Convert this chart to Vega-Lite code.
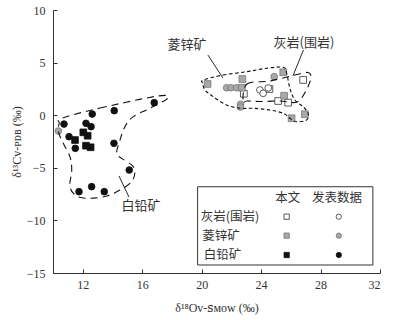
{
  "$schema": "https://vega.github.io/schema/vega-lite/v6.json",
  "width": 327,
  "height": 263,
  "autosize": {"type": "none"},
  "padding": {"left": 53, "top": 10, "right": 30, "bottom": 47},
  "config": {
    "view": {"stroke": null},
    "font": "Liberation Serif, Noto Sans CJK SC",
    "axis": {
      "domainColor": "#333",
      "tickColor": "#333",
      "labelColor": "#333",
      "titleColor": "#333",
      "labelFont": "Liberation Serif",
      "labelFontSize": 12,
      "titleFont": "Liberation Serif, DejaVu Serif",
      "titleFontSize": 12,
      "titleFontWeight": "normal",
      "grid": false,
      "tickSize": -4
    }
  },
  "datasets": {
    "env": [
      {"g": "a", "i": 1, "x": 10.59, "y": -0.29},
      {"g": "a", "i": 2, "x": 13.16, "y": 0.68},
      {"g": "a", "i": 3, "x": 17.08, "y": 1.83},
      {"g": "a", "i": 4, "x": 17.71, "y": 1.61},
      {"g": "a", "i": 5, "x": 16.52, "y": 0.66},
      {"g": "a", "i": 6, "x": 15.4, "y": -0.14},
      {"g": "a", "i": 7, "x": 14.84, "y": -1.09},
      {"g": "a", "i": 8, "x": 14.51, "y": -2.36},
      {"g": "a", "i": 9, "x": 14.28, "y": -3.62},
      {"g": "a", "i": 10, "x": 14.62, "y": -4.1},
      {"g": "a", "i": 11, "x": 15.29, "y": -4.73},
      {"g": "a", "i": 12, "x": 15.51, "y": -5.37},
      {"g": "a", "i": 13, "x": 15.29, "y": -6.32},
      {"g": "a", "i": 14, "x": 14.51, "y": -7.11},
      {"g": "a", "i": 15, "x": 13.61, "y": -7.68},
      {"g": "a", "i": 16, "x": 12.49, "y": -7.9},
      {"g": "a", "i": 17, "x": 11.59, "y": -7.68},
      {"g": "a", "i": 18, "x": 11.14, "y": -6.8},
      {"g": "a", "i": 19, "x": 11.26, "y": -5.21},
      {"g": "a", "i": 20, "x": 11.14, "y": -3.95},
      {"g": "a", "i": 21, "x": 10.69, "y": -2.67},
      {"g": "a", "i": 22, "x": 10.36, "y": -1.57},
      {"g": "a", "i": 23, "x": 10.42, "y": -0.77},
      {"g": "b", "i": 1, "x": 20.11, "y": 3.35},
      {"g": "b", "i": 2, "x": 21.45, "y": 3.82},
      {"g": "b", "i": 3, "x": 23.03, "y": 4.13},
      {"g": "b", "i": 4, "x": 24.37, "y": 4.46},
      {"g": "b", "i": 5, "x": 25.49, "y": 4.55},
      {"g": "b", "i": 6, "x": 25.72, "y": 3.98},
      {"g": "b", "i": 7, "x": 25.94, "y": 2.56},
      {"g": "b", "i": 8, "x": 26.27, "y": 1.44},
      {"g": "b", "i": 9, "x": 26.83, "y": 0.81},
      {"g": "b", "i": 10, "x": 27.17, "y": 0.18},
      {"g": "b", "i": 11, "x": 27.06, "y": -0.46},
      {"g": "b", "i": 12, "x": 26.39, "y": -0.62},
      {"g": "b", "i": 13, "x": 25.94, "y": -0.29},
      {"g": "b", "i": 14, "x": 25.49, "y": 0.18},
      {"g": "b", "i": 15, "x": 24.59, "y": 0.49},
      {"g": "b", "i": 16, "x": 23.47, "y": 0.66},
      {"g": "b", "i": 17, "x": 22.58, "y": 0.66},
      {"g": "b", "i": 18, "x": 21.68, "y": 0.97},
      {"g": "b", "i": 19, "x": 20.78, "y": 1.76},
      {"g": "b", "i": 20, "x": 20.22, "y": 2.4},
      {"g": "b", "i": 21, "x": 20.07, "y": 3.03},
      {"g": "c", "i": 1, "x": 22.78, "y": 1.25},
      {"g": "c", "i": 2, "x": 23.05, "y": 2.97},
      {"g": "c", "i": 3, "x": 24.59, "y": 3.25},
      {"g": "c", "i": 4, "x": 26.27, "y": 3.82},
      {"g": "c", "i": 5, "x": 27.15, "y": 4.06},
      {"g": "c", "i": 6, "x": 27.35, "y": 3.54},
      {"g": "c", "i": 7, "x": 27.01, "y": 2.3},
      {"g": "c", "i": 8, "x": 26.41, "y": 1.25},
      {"g": "c", "i": 9, "x": 25.27, "y": 1.35},
      {"g": "c", "i": 10, "x": 24.06, "y": 1.3},
      {"g": "c", "i": 11, "x": 23.05, "y": 1.35}
    ],
    "pts": [
      {"type": "白铅矿|发表数据", "x": 16.81, "y": 1.19},
      {"type": "白铅矿|发表数据", "x": 14.12, "y": 0.43},
      {"type": "白铅矿|发表数据", "x": 12.64, "y": 0.11},
      {"type": "白铅矿|发表数据", "x": 10.74, "y": -0.84},
      {"type": "白铅矿|发表数据", "x": 12.22, "y": -0.77},
      {"type": "白铅矿|发表数据", "x": 12.56, "y": -1.09},
      {"type": "白铅矿|发表数据", "x": 11.08, "y": -2.04},
      {"type": "白铅矿|发表数据", "x": 11.5, "y": -3.15},
      {"type": "白铅矿|发表数据", "x": 14.1, "y": -2.67},
      {"type": "白铅矿|发表数据", "x": 15.13, "y": -5.21},
      {"type": "白铅矿|发表数据", "x": 11.75, "y": -7.27},
      {"type": "白铅矿|发表数据", "x": 12.6, "y": -6.79},
      {"type": "白铅矿|发表数据", "x": 13.45, "y": -7.27},
      {"type": "白铅矿|本文", "x": 11.48, "y": -2.36},
      {"type": "白铅矿|本文", "x": 12.04, "y": -1.63},
      {"type": "白铅矿|本文", "x": 12.33, "y": -1.95},
      {"type": "白铅矿|本文", "x": 12.22, "y": -2.9},
      {"type": "白铅矿|本文", "x": 12.53, "y": -3.05},
      {"type": "灰岩(围岩)|本文", "x": 22.84, "y": 2.04},
      {"type": "灰岩(围岩)|本文", "x": 24.56, "y": 2.49},
      {"type": "灰岩(围岩)|本文", "x": 26.83, "y": 3.35},
      {"type": "灰岩(围岩)|本文", "x": 25.15, "y": 1.35},
      {"type": "灰岩(围岩)|本文", "x": 25.82, "y": 1.19},
      {"type": "灰岩(围岩)|发表数据", "x": 23.92, "y": 2.4},
      {"type": "灰岩(围岩)|发表数据", "x": 24.14, "y": 2.08},
      {"type": "灰岩(围岩)|发表数据", "x": 24.48, "y": 2.59},
      {"type": "菱锌矿|发表数据", "x": 10.36, "y": -1.5},
      {"type": "菱锌矿|发表数据", "x": 21.68, "y": 2.61},
      {"type": "菱锌矿|发表数据", "x": 21.97, "y": 2.61},
      {"type": "菱锌矿|发表数据", "x": 22.35, "y": 2.61},
      {"type": "菱锌矿|发表数据", "x": 24.88, "y": 3.66},
      {"type": "菱锌矿|发表数据", "x": 22.62, "y": 1.04},
      {"type": "菱锌矿|发表数据", "x": 22.61, "y": 0.78},
      {"type": "菱锌矿|本文", "x": 20.4, "y": 2.97},
      {"type": "菱锌矿|本文", "x": 22.74, "y": 3.44},
      {"type": "菱锌矿|本文", "x": 25.49, "y": 4.08},
      {"type": "菱锌矿|本文", "x": 22.71, "y": 2.61},
      {"type": "菱锌矿|本文", "x": 25.55, "y": 1.85},
      {"type": "菱锌矿|本文", "x": 26.05, "y": -0.29},
      {"type": "菱锌矿|本文", "x": 26.95, "y": 0.09}
    ],
    "key": [
      {"type": "灰岩(围岩)|本文", "x": 25.72, "y": -9.65},
      {"type": "灰岩(围岩)|发表数据", "x": 29.23, "y": -9.65},
      {"type": "菱锌矿|本文", "x": 25.72, "y": -11.45},
      {"type": "菱锌矿|发表数据", "x": 29.23, "y": -11.45},
      {"type": "白铅矿|本文", "x": 25.72, "y": -13.29},
      {"type": "白铅矿|发表数据", "x": 29.23, "y": -13.29}
    ]
  },
  "layer": [
    {
      "data": {"name": "pts"},
      "mark": {"type": "point", "filled": true, "opacity": 1, "strokeWidth": 0.8},
      "encoding": {
        "x": {
          "field": "x", "type": "quantitative",
          "scale": {"domain": [10, 32], "nice": false, "zero": false},
          "axis": {"values": [12, 16, 20, 24, 28, 32], "title": "δ¹⁸Oᴠ-ꜱᴍᴏᴡ (‰)", "labelPadding": 10, "titlePadding": 12}
        },
        "y": {
          "field": "y", "type": "quantitative",
          "scale": {"domain": [-15, 10], "nice": false, "zero": false},
          "axis": {"values": [-15, -10, -5, 0, 5, 10], "title": "δ¹³Cᴠ-ᴘᴅʙ (‰)", "labelPadding": 12, "titlePadding": 3}
        },
        "shape": {
          "field": "type", "type": "nominal",
          "scale": {
            "domain": ["灰岩(围岩)|本文", "灰岩(围岩)|发表数据", "菱锌矿|本文", "菱锌矿|发表数据", "白铅矿|本文", "白铅矿|发表数据"],
            "range": ["square", "circle", "square", "circle", "square", "circle"]
          },
          "legend": null
        },
        "fill": {
          "field": "type", "type": "nominal",
          "scale": {
            "domain": ["灰岩(围岩)|本文", "灰岩(围岩)|发表数据", "菱锌矿|本文", "菱锌矿|发表数据", "白铅矿|本文", "白铅矿|发表数据"],
            "range": ["white", "white", "#a8a8a8", "#a8a8a8", "#111", "#111"]
          },
          "legend": null
        },
        "stroke": {
          "field": "type", "type": "nominal",
          "scale": {
            "domain": ["灰岩(围岩)|本文", "灰岩(围岩)|发表数据", "菱锌矿|本文", "菱锌矿|发表数据", "白铅矿|本文", "白铅矿|发表数据"],
            "range": ["#333", "#333", "#777", "#777", "#111", "#111"]
          },
          "legend": null
        },
        "size": {"value": 45}
      }
    },
    {
      "data": {"name": "env"},
      "mark": {"type": "line", "interpolate": "cardinal-closed", "stroke": "#111", "strokeWidth": 1.1},
      "encoding": {
        "x": {"field": "x", "type": "quantitative"},
        "y": {"field": "y", "type": "quantitative"},
        "detail": {"field": "g"},
        "order": {"field": "i"},
        "strokeDash": {"field": "g", "type": "nominal", "scale": {"domain": ["a", "b", "c"], "range": [[7, 5], [3.5, 2.5], [7, 5]]}, "legend": null}
      }
    },
    {
      "data": {"values": [
        {"x": 20.42, "y": 5.72, "x2": 21.43, "y2": 3.54},
        {"x": 26.85, "y": 6.2, "x2": 26.14, "y2": 3.73},
        {"x": 14.44, "y": -5.78, "x2": 15.11, "y2": -7.78}
      ]},
      "mark": {"type": "rule", "stroke": "#111", "strokeWidth": 0.9},
      "encoding": {
        "x": {"field": "x", "type": "quantitative"},
        "y": {"field": "y", "type": "quantitative"},
        "x2": {"field": "x2"},
        "y2": {"field": "y2"}
      }
    },
    {
      "data": {"values": [
        {"x": 19.01, "y": 6.67, "t": "菱锌矿"},
        {"x": 26.88, "y": 6.86, "t": "灰岩(围岩)"},
        {"x": 15.92, "y": -8.63, "t": "白铅矿"}
      ]},
      "mark": {"type": "text", "font": "Noto Sans CJK SC", "fontSize": 13, "color": "#333", "align": "center", "baseline": "middle"},
      "encoding": {
        "x": {"field": "x", "type": "quantitative"},
        "y": {"field": "y", "type": "quantitative"},
        "text": {"field": "t"}
      }
    },
    {
      "data": {"values": [{"x": 19.73, "x2": 31.52, "y": -6.8, "y2": -14.24}]},
      "mark": {"type": "rect", "fill": "white", "stroke": "#333", "strokeWidth": 1},
      "encoding": {
        "x": {"field": "x", "type": "quantitative"},
        "x2": {"field": "x2"},
        "y": {"field": "y", "type": "quantitative"},
        "y2": {"field": "y2"}
      }
    },
    {
      "data": {"name": "key"},
      "mark": {"type": "point", "filled": true, "opacity": 1, "strokeWidth": 0.8},
      "encoding": {
        "x": {"field": "x", "type": "quantitative"},
        "y": {"field": "y", "type": "quantitative"},
        "shape": {"field": "type", "type": "nominal", "legend": null},
        "fill": {"field": "type", "type": "nominal", "legend": null},
        "stroke": {"field": "type", "type": "nominal", "legend": null},
        "size": {"value": 28}
      }
    },
    {
      "data": {"values": [
        {"x": 25.8, "y": -7.84, "t": "本文"},
        {"x": 29.1, "y": -7.84, "t": "发表数据"},
        {"x": 21.9, "y": -9.65, "t": "灰岩(围岩)"},
        {"x": 21.3, "y": -11.45, "t": "菱锌矿"},
        {"x": 21.4, "y": -13.29, "t": "白铅矿"}
      ]},
      "mark": {"type": "text", "font": "Noto Sans CJK SC", "fontSize": 12.5, "color": "#333", "align": "center", "baseline": "middle"},
      "encoding": {
        "x": {"field": "x", "type": "quantitative"},
        "y": {"field": "y", "type": "quantitative"},
        "text": {"field": "t"}
      }
    }
  ]
}
